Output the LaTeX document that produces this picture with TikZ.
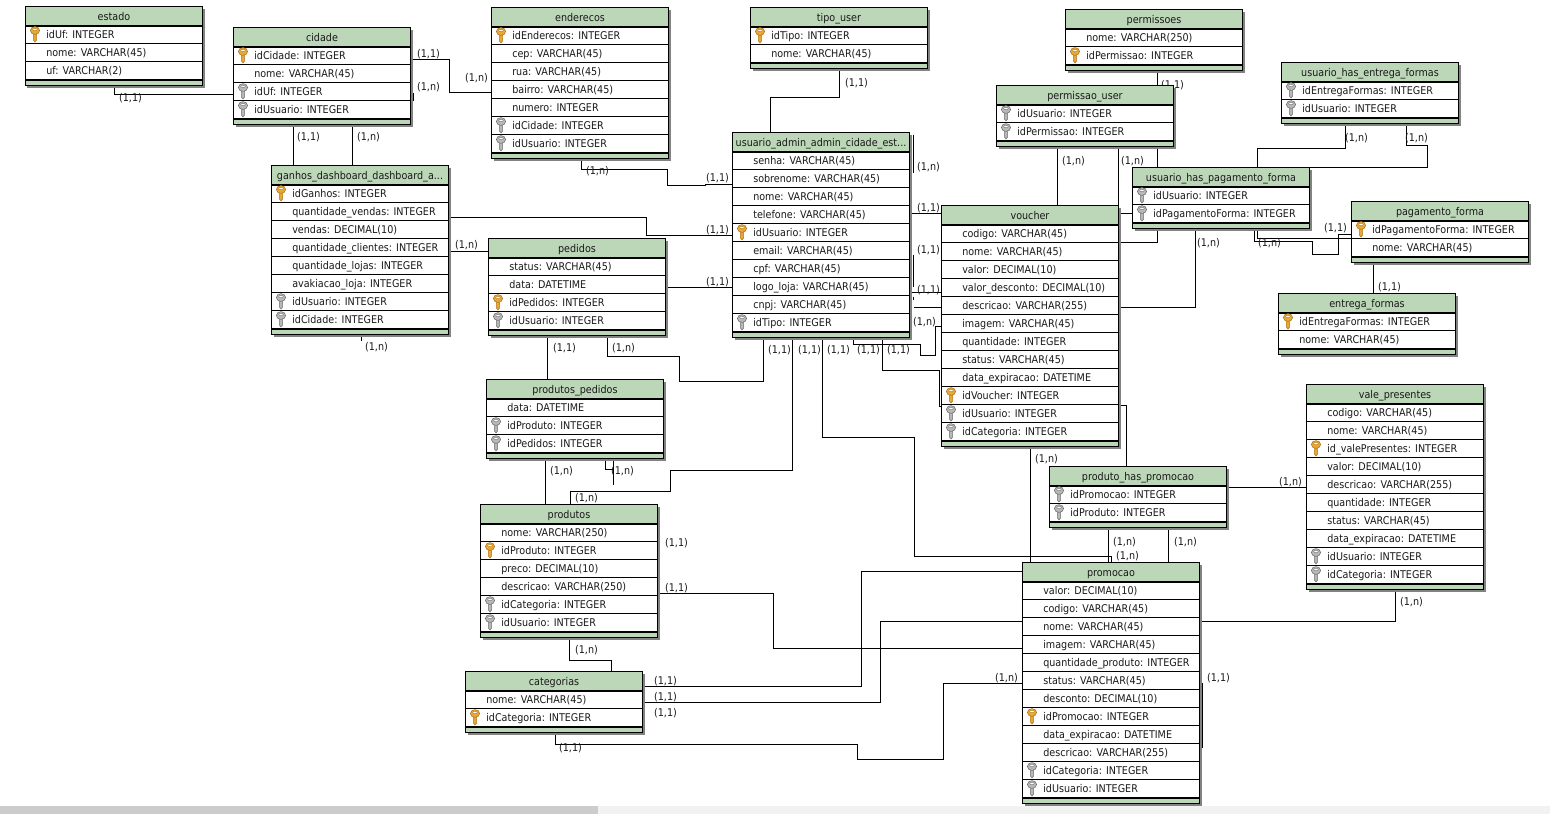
\documentclass[tikz,border=0pt]{standalone}
\usepackage{fontspec}
\setmainfont{DejaVu Sans}[FakeStretch=0.9]
\usetikzlibrary{backgrounds}
\definecolor{hdr}{RGB}{188,215,184}
\definecolor{shad}{RGB}{130,130,130}
\definecolor{gold}{RGB}{232,168,56}
\definecolor{golddk}{RGB}{176,118,24}
\definecolor{keyg}{RGB}{184,184,184}
\definecolor{keygd}{RGB}{112,112,112}
\definecolor{txt}{RGB}{25,25,25}
\tikzset{
  x=0.75pt,y=-0.75pt,
  tablebox/.style={draw=black,line width=0.75pt,fill=white,anchor=north west,inner sep=0pt,outer sep=0pt},
  titletext/.style={font=\fontsize{8}{10}\selectfont,text=txt,inner sep=0pt,text height=6.2pt,text depth=1.8pt,yshift=-0.9pt},
  rowtext/.style={font=\fontsize{8}{10}\selectfont,text=txt,inner sep=0pt,anchor=west,text height=6.2pt,text depth=1.8pt,yshift=-1.1pt},
  conn/.style={draw=black,line width=0.75pt},
  lab/.style={font=\fontsize{8}{10}\selectfont,text=txt,inner sep=0pt,text height=6.2pt,text depth=1.8pt,yshift=-1.1pt},
}
% key icon: #1 x, #2 y centre, #3 fill, #4 outline
\newcommand{\keyicon}[4]{%
  \filldraw[fill=#3,draw=#4,line width=0.4pt]
    (#1-1.6,#2-1) -- (#1-1.6,#2+5.5) -- (#1,#2+7.5) -- (#1+1.6,#2+5.5) -- (#1+1.6,#2-1) -- cycle;
  \filldraw[fill=#3,draw=#4,line width=0.4pt] (#1,#2-4) ellipse [x radius=4.6,y radius=3.9];
  \filldraw[fill=white,draw=#4,line width=0.3pt] (#1,#2-5) ellipse [x radius=2.3,y radius=1.1];}
% \entity{name}{x}{y}{n rows}{title}{rows as type/text}
\newcommand{\entity}[6]{%
  \pgfmathsetmacro{\hh}{19+18*#4+6}
  \pgfmathsetmacro{\xr}{#2+177}
  \pgfmathsetmacro{\yb}{#3+\hh}
  \fill[shad] (#2+2,#3+2) rectangle (\xr+2,\yb+2);
  \node[tablebox,minimum width=132.75pt,minimum height=\hh*0.75pt] (#1) at (#2,#3) {};
  \fill[hdr] (#2,#3) rectangle (\xr,#3+19);
  \fill[hdr] (#2,\yb-6) rectangle (\xr,\yb);
  \node[titletext] (#1-title) at (#2+88.5,#3+9.5) {#5};
  \draw[black,line width=1.5pt] (#2,#3+19) -- (\xr,#3+19);
  \draw[black,line width=1.5pt] (#2,\yb-6) -- (\xr,\yb-6);
  \draw[black,line width=0.75pt] (#2,#3) rectangle (\xr,\yb);
  \foreach \ty/\tx [count=\i] in {#6}{%
    \pgfmathsetmacro{\rowc}{#3+28+18*(\i-1)}
    \ifnum\i<#4 \draw[black,line width=0.75pt] (#2,\rowc+9) -- (\xr,\rowc+9);\fi
    \node[rowtext] (#1-r\i) at (#2+20.5,\rowc) {\tx};
    \if\ty k\keyicon{#2+9.5}{\rowc}{gold}{golddk}\fi
    \if\ty f\keyicon{#2+9.5}{\rowc}{keyg}{keygd}\fi
  }%
}
\begin{document}
\begin{tikzpicture}
\useasboundingbox (0.5,0.5) rectangle (1550.5,814.5);

\entity{estado}{26}{7}{3}{estado}{k/idUf: INTEGER,n/nome: VARCHAR(45),n/uf: VARCHAR(2)}
\entity{cidade}{234}{28}{4}{cidade}{k/idCidade: INTEGER,n/nome: VARCHAR(45),f/idUf: INTEGER,f/idUsuario: INTEGER}
\entity{enderecos}{492}{8}{7}{enderecos}{k/idEnderecos: INTEGER,n/cep: VARCHAR(45),n/rua: VARCHAR(45),n/bairro: VARCHAR(45),n/numero: INTEGER,f/idCidade: INTEGER,f/idUsuario: INTEGER}
\entity{tipouser}{751}{8}{2}{tipo\_user}{k/idTipo: INTEGER,n/nome: VARCHAR(45)}
\entity{permissoes}{1066}{10}{2}{permissoes}{n/nome: VARCHAR(250),k/idPermissao: INTEGER}
\entity{entregauser}{1282}{63}{2}{usuario\_has\_entrega\_formas}{f/idEntregaFormas: INTEGER,f/idUsuario: INTEGER}
\entity{permuser}{997}{86}{2}{permissao\_user}{f/idUsuario: INTEGER,f/idPermissao: INTEGER}
\entity{usuario}{733}{133}{10}{usuario\_admin\_admin\_cidade\_est...}{n/senha: VARCHAR(45),n/sobrenome: VARCHAR(45),n/nome: VARCHAR(45),n/telefone: VARCHAR(45),k/idUsuario: INTEGER,n/email: VARCHAR(45),n/cpf: VARCHAR(45),n/logo\_loja: VARCHAR(45),n/cnpj: VARCHAR(45),f/idTipo: INTEGER}
\entity{ganhos}{272}{166}{8}{ganhos\_dashboard\_dashboard\_a...}{k/idGanhos: INTEGER,n/quantidade\_vendas: INTEGER,n/vendas: DECIMAL(10),n/quantidade\_clientes: INTEGER,n/quantidade\_lojas: INTEGER,n/avakiacao\_loja: INTEGER,f/idUsuario: INTEGER,f/idCidade: INTEGER}
\entity{pagouser}{1133}{168}{2}{usuario\_has\_pagamento\_forma}{f/idUsuario: INTEGER,f/idPagamentoForma: INTEGER}
\entity{pedidos}{489}{239}{4}{pedidos}{n/status: VARCHAR(45),n/data: DATETIME,k/idPedidos: INTEGER,f/idUsuario: INTEGER}
\entity{voucher}{942}{206}{12}{voucher}{n/codigo: VARCHAR(45),n/nome: VARCHAR(45),n/valor: DECIMAL(10),n/valor\_desconto: DECIMAL(10),n/descricao: VARCHAR(255),n/imagem: VARCHAR(45),n/quantidade: INTEGER,n/status: VARCHAR(45),n/data\_expiracao: DATETIME,k/idVoucher: INTEGER,f/idUsuario: INTEGER,f/idCategoria: INTEGER}
\entity{pagforma}{1352}{202}{2}{pagamento\_forma}{k/idPagamentoForma: INTEGER,n/nome: VARCHAR(45)}
\entity{entforma}{1279}{294}{2}{entrega\_formas}{k/idEntregaFormas: INTEGER,n/nome: VARCHAR(45)}
\entity{prodped}{487}{380}{3}{produtos\_pedidos}{n/data: DATETIME,f/idProduto: INTEGER,f/idPedidos: INTEGER}
\entity{vale}{1307}{385}{10}{vale\_presentes}{n/codigo: VARCHAR(45),n/nome: VARCHAR(45),k/id\_valePresentes: INTEGER,n/valor: DECIMAL(10),n/descricao: VARCHAR(255),n/quantidade: INTEGER,n/status: VARCHAR(45),n/data\_expiracao: DATETIME,f/idUsuario: INTEGER,f/idCategoria: INTEGER}
\entity{prodpromo}{1050}{467}{2}{produto\_has\_promocao}{f/idPromocao: INTEGER,f/idProduto: INTEGER}
\entity{produtos}{481}{505}{6}{produtos}{n/nome: VARCHAR(250),k/idProduto: INTEGER,n/preco: DECIMAL(10),n/descricao: VARCHAR(250),f/idCategoria: INTEGER,f/idUsuario: INTEGER}
\entity{promocao}{1023}{563}{12}{promocao}{n/valor: DECIMAL(10),n/codigo: VARCHAR(45),n/nome: VARCHAR(45),n/imagem: VARCHAR(45),n/quantidade\_produto: INTEGER,n/status: VARCHAR(45),n/desconto: DECIMAL(10),k/idPromocao: INTEGER,n/data\_expiracao: DATETIME,n/descricao: VARCHAR(255),f/idCategoria: INTEGER,f/idUsuario: INTEGER}
\entity{categorias}{466}{672}{2}{categorias}{n/nome: VARCHAR(45),k/idCategoria: INTEGER}

\begin{scope}[on background layer]
\fill[white] (0,0) rectangle (1551,815);
\fill[gray!10] (0,806) rectangle (1551,815);
\fill[gray!40] (0,806) rectangle (598,815);

% connectors
\draw[conn] (115,0 |- estado.south) -- (115,95) -- (cidade.west |- 0,95);
\draw[conn] (cidade.east |- 0,60) -- (450,60) -- (450,93) -- (enderecos.west |- 0,93);
\draw[conn] (413.5,93) -- (413.5,101);
\draw[conn] (294,0 |- cidade.south) -- (294,0 |- ganhos.north);
\draw[conn] (353,0 |- cidade.south) -- (353,0 |- ganhos.north);
\draw[conn] (582,0 |- enderecos.south) -- (582,170) -- (668,170) -- (668,186) -- (706,186) -- (706,185) -- (usuario.west |- 0,185);
\draw[conn] (840,0 |- tipouser.south) -- (840,98) -- (771,98) -- (771,0 |- usuario.north);
\draw[conn] (ganhos.east |- 0,218) -- (647,218) -- (647,236) -- (usuario.west |- 0,236);
\draw[conn] (ganhos.east |- 0,252) -- (pedidos.west |- 0,252);
\draw[conn] (pedidos.east |- 0,288) -- (usuario.west |- 0,288);
\draw[conn] (913.5,135) -- (913.5,173);
\draw[conn] (usuario.east |- 0,214) -- (voucher.west |- 0,214);
\draw[conn] (914,255) -- (914,287);
\draw[conn] (usuario.east |- 0,293) -- (voucher.west |- 0,293);
\draw[conn] (914,297) -- (914,300);
\draw[conn] (914,308) -- (voucher.west |- 0,308);
\draw[conn] (1158,0 |- permissoes.south) -- (1158,243) -- (voucher.east |- 0,243);
\draw[conn] (1058,0 |- permuser.south) -- (1058,0 |- voucher.north);
\draw[conn] (1119,0 |- permuser.south) -- (1119,0 |- voucher.north);
\draw[conn] (voucher.east |- 0,214) -- (pagouser.west |- 0,214);
\draw[conn] (1346,0 |- entregauser.south) -- (1346,149) -- (1258,149) -- (1258,0 |- pagouser.north);
\draw[conn] (1407,0 |- entregauser.south) -- (1407,146) -- (1428,146) -- (1428,168) -- (pagouser.east |- 0,168);
\draw[conn] (1255,0 |- pagouser.south) -- (1255,242) -- (1313,242) -- (1313,255) -- (1339,255) -- (1339,235) -- (pagforma.west |- 0,235);
\draw[conn] (1258,0 |- pagouser.south) -- (1258,239) -- (pagforma.west |- 0,239);
\draw[conn] (1374,0 |- pagforma.south) -- (1374,0 |- entforma.north);
\draw[conn] (1196,0 |- pagouser.south) -- (1196,308) -- (voucher.east |- 0,308);
\draw[conn] (854,0 |- usuario.south) -- (854,345) -- (921,345) -- (921,356) -- (936,356) -- (936,327) -- (voucher.west |- 0,327);
\draw[conn] (883,0 |- usuario.south) -- (883,371) -- (940,371) -- (940,407) -- (voucher.west |- 0,407);
\draw[conn] (764,0 |- usuario.south) -- (764,382) -- (680,382) -- (680,357) -- (608,357) -- (608,0 |- pedidos.south);
\draw[conn] (548,0 |- pedidos.south) -- (548,0 |- prodped.north);
\draw[conn] (793,0 |- usuario.south) -- (793,471) -- (671,471) -- (671,492) -- (571,492) -- (571,0 |- produtos.north);
\draw[conn] (823,0 |- usuario.south) -- (823,438) -- (915,438) -- (915,557) -- (1112,557) -- (1112,0 |- promocao.north);
\draw[conn] (1109,0 |- prodpromo.south) -- (1109,0 |- promocao.north);
\draw[conn] (1169,0 |- prodpromo.south) -- (1169,0 |- promocao.north);
\draw[conn] (1031,0 |- voucher.south) -- (1031,0 |- promocao.north);
\draw[conn] (voucher.east |- 0,406) -- (1127,406) -- (1127,0 |- prodpromo.north);
\draw[conn] (prodpromo.east |- 0,488) -- (vale.west |- 0,488);
\draw[conn] (1396,0 |- vale.south) -- (1396,622) -- (promocao.east |- 0,622);
\draw[conn] (1202.5,683) -- (1202.5,748);
\draw[conn] (promocao.west |- 0,684) -- (944,684) -- (944,760) -- (858,760) -- (858,745) -- (556,745) -- (556,0 |- categorias.south);
\draw[conn] (645,680) -- (645,718);
\draw[conn] (categorias.east |- 0,687) -- (862,687) -- (862,572) -- (promocao.west |- 0,572);
\draw[conn] (categorias.east |- 0,703) -- (881,703) -- (881,622) -- (promocao.west |- 0,622);
\draw[conn] (660,549) -- (660,576);
\draw[conn] (produtos.east |- 0,594) -- (774,594) -- (774,649) -- (promocao.west |- 0,649);
\draw[conn] (570,0 |- produtos.south) -- (570,661) -- (612,661) -- (612,0 |- categorias.north);
\draw[conn] (546,0 |- prodped.south) -- (546,0 |- produtos.north);
\draw[conn] (606,0 |- prodped.south) -- (606,470) -- (614,470);
\draw[conn] (614,461) -- (614,485);
\draw[conn] (362,0 |- ganhos.south) -- (362,341);

% cardinality labels
\foreach \lx/\ly/\lt [count=\i] in {
  131/98/1, 429/54/1, 429/87/n, 477/78/n, 309/137/1, 369/137/n, 598/171/n, 718/178/1,
  857/83/1, 718/230/1, 467/245/n, 718/282/1, 929/167/n, 929/208/1, 929/250/1, 929/290/1,
  925/322/n, 1173/85/1, 1074/161/n, 1133/161/n, 1357/138/n, 1417/138/n, 1270/243/n,
  1336/228/1, 1390/287/1, 1209/243/n, 780/350/1, 810/350/1, 839/350/1, 869/350/1, 899/350/1,
  565/348/1, 624/348/n, 587/498/n, 562/471/n, 623/471/n, 377/347/n, 1047/459/n, 1125/542/n,
  1128/556/n, 1186/542/n, 1291/482/n, 1412/602/n, 1219/678/1, 1007/678/n, 571/748/1,
  666/681/1, 666/697/1, 666/713/1, 677/543/1, 677/588/1, 587/650/n}{
  \node[lab] (lab\i) at (\lx,\ly) {(1,\lt)};
}
\end{scope}
\end{tikzpicture}
\end{document}
